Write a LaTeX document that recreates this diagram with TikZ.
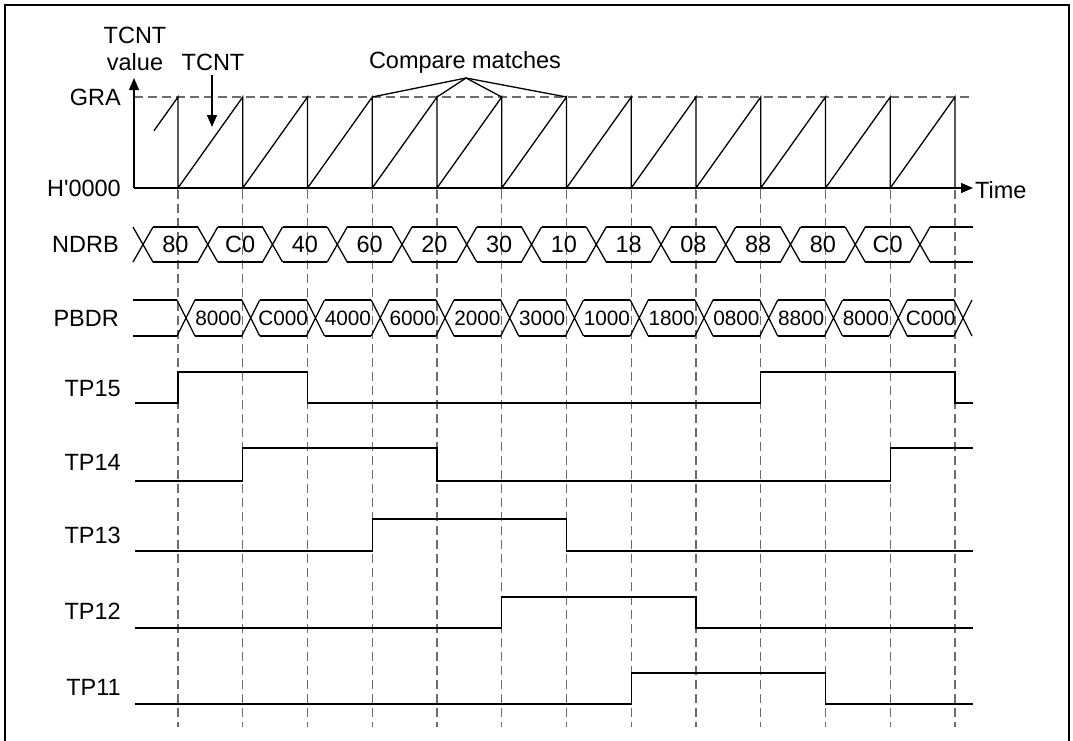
\documentclass[tikz,border=0pt]{standalone}
\usepackage{fontspec}
\setmainfont{Liberation Sans}
\newfontfamily\plainsans{Liberation Sans}[Ligatures=TeXOff]
\usetikzlibrary{arrows.meta}
\begin{document}
\begin{tikzpicture}[x=1pt,y=-1pt,
  every node/.style={inner sep=0pt,font=\fontsize{23.5}{28}\selectfont},
  small/.style={font=\fontsize{20.8}{24}\selectfont},
  sig/.style={line width=1.3pt,black},
  grid/.style={line width=1.2pt,gray!85!black,dash pattern=on 9pt off 5pt},
  arr/.style={line width=1.3pt,-{Triangle[length=12pt,width=10pt]}},
  lbl/.style={anchor=east}]
\useasboundingbox (0,0) rectangle (1073,740);
% frame
\draw[line width=2pt] (5,760) -- (5,5) -- (1069,5) -- (1069,760);
% vertical dashed time grid
\foreach \i in {0,...,12}{
  \pgfmathsetmacro{\xx}{178+64.75*\i}
  \draw[grid] (\xx,190) -- (\xx,727);
}
% TCNT graph
\coordinate (o) at (134,188);
\coordinate (ytip) at (134,78);
\coordinate (xtip) at (973,188);
\draw[grid] (134,97) -- (973,97);
\draw[arr] (o) -- (ytip);
\draw[arr] (o) -- (xtip);
\draw[sig] (154,130.7) -- (178,97) -- (178,188)
  \foreach \i in {1,...,12}{ -- ({178+64.75*\i},97) -- ({178+64.75*\i},188) };
\node (tcntv) at (135,35) {TCNT};
\node (value) at (135,62) {value};
\node (tcnt) at (213,62) {TCNT};
\node[lbl] (gra) at (121,97) {GRA};
\node[lbl] (h0) at (121,188) {H{\plainsans'}0000};
\node[anchor=west] (time) at (975,190) {Time};
\coordinate (ttip) at (212,127);
\draw[arr] (212,75) -- (ttip);
\node (cmp) at (465,62) {Compare matches};
\coordinate (cm) at (466,78);
\foreach \i in {3,4,5,6}{
  \coordinate (pk\i) at ({178+64.75*\i},97);
  \draw[sig] (cm) -- (pk\i);
}
% NDRB bus
\node[lbl] (ndrb) at (119,244) {NDRB};
\foreach \i in {0,...,12}{
  \pgfmathsetmacro{\c}{178+64.75*\i-35}
  \draw[sig] (\c-10,227) -- (\c+10,262) (\c-10,262) -- (\c+10,227);
}
\foreach \i in {0,...,11}{
  \pgfmathsetmacro{\c}{178+64.75*\i-35}
  \draw[sig] (\c+10,227) -- (\c+54.75,227) (\c+10,262) -- (\c+54.75,262);
}
\draw[sig] (930,227) -- (973,227) (930,262) -- (973,262);
\foreach \v [count=\k from 0] in {80,C0,40,60,20,30,10,18,08,88,80,C0}{
  \node (nd\k) at ({178+64.75*\k-2.6},244) {\v};
}
% PBDR bus
\node[lbl] (pbdr) at (119,318) {PBDR};
\draw[sig] (133,300) -- (177,300) (133,336) -- (177,336);
\foreach \i in {0,...,12}{
  \pgfmathsetmacro{\c}{178+64.75*\i+8}
  \draw[sig] (\c-9,300) -- (\c+9,336) (\c-9,336) -- (\c+9,300);
}
\foreach \i in {0,...,11}{
  \pgfmathsetmacro{\c}{178+64.75*\i+8}
  \draw[sig] (\c+9,300) -- (\c+55.75,300) (\c+9,336) -- (\c+55.75,336);
}
\foreach \v [count=\k from 0] in {8000,C000,4000,6000,2000,3000,1000,1800,0800,8800,8000,C000}{
  \node[small] (pb\k) at ({178+64.75*\k+40.4},318.5) {\v};
}
% TP outputs
\node[lbl] (tp15) at (121,389) {TP15};
\draw[sig] (135,403) -- (178,403) -- (178,372) -- (307.5,372) -- (307.5,403)
  -- (760.75,403) -- (760.75,372) -- (955,372) -- (955,403) -- (973,403);
\node[lbl] (tp14) at (121,462) {TP14};
\draw[sig] (135,481) -- (242.75,481) -- (242.75,448) -- (437,448) -- (437,481)
  -- (890.25,481) -- (890.25,448) -- (973,448);
\node[lbl] (tp13) at (121,535) {TP13};
\draw[sig] (135,551) -- (372.25,551) -- (372.25,519) -- (566.5,519) -- (566.5,551) -- (973,551);
\node[lbl] (tp12) at (121,611) {TP12};
\draw[sig] (135,628) -- (501.75,628) -- (501.75,597) -- (696,597) -- (696,628) -- (973,628);
\node[lbl] (tp11) at (121,687) {TP11};
\draw[sig] (135,704) -- (631.25,704) -- (631.25,673) -- (825.5,673) -- (825.5,704) -- (973,704);
\end{tikzpicture}
\end{document}
